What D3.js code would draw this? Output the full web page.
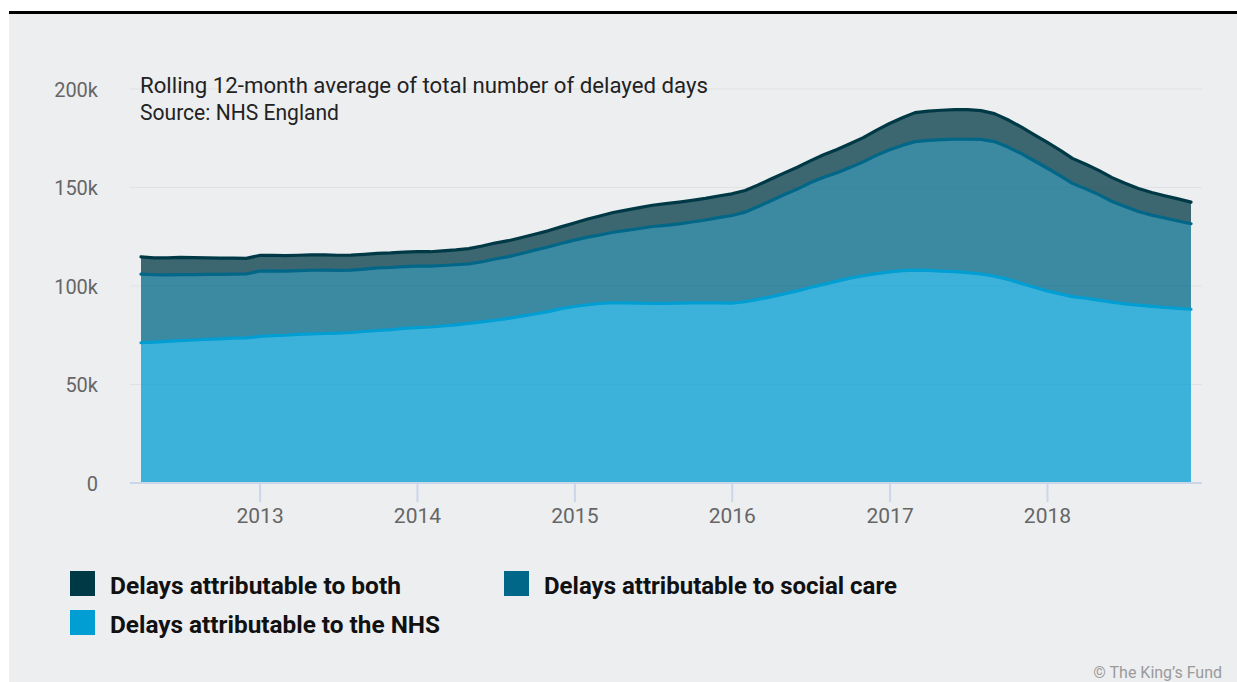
<!DOCTYPE html>
<html><head><meta charset="utf-8">
<script src="https://cdn.jsdelivr.net/npm/d3@7"></script>
<style>html,body{margin:0;padding:0;background:#fff;} svg{display:block;}</style>
</head><body>
<svg id="c" width="1237" height="682"></svg>
<script>
// ---- DATA (thousands of delayed days, monthly Apr 2012 – Dec 2018) ----
const firstMonth = "2012-04";
const lastMonth = "2018-12";
const nhs = [71.2,71.5,71.9,72.3,72.6,72.9,73.2,73.5,73.6,74.4,74.8,75.0,75.4,75.7,75.9,76.1,76.4,76.9,77.4,77.8,
  78.5,78.9,79.2,79.7,80.3,81.0,81.8,82.6,83.6,84.7,85.8,87.0,88.5,89.6,90.5,91.2,91.5,91.4,91.3,91.2,
  91.2,91.3,91.4,91.5,91.4,91.3,92.0,93.2,94.5,96.0,97.5,99.2,100.8,102.5,104.0,105.2,106.3,107.2,107.8,108.1,
  107.9,107.6,107.3,106.8,106.1,105.0,103.5,101.4,99.5,97.5,96.0,94.6,93.8,92.8,91.8,90.9,90.3,89.7,89.1,88.6,88.2];
const social = [34.8,34.2,33.7,33.5,33.2,33.0,32.7,32.5,32.5,33.2,32.9,32.6,32.4,32.3,32.2,31.8,31.7,31.7,31.8,31.6,
  31.3,31.2,30.9,30.7,30.5,30.2,30.5,31.1,31.3,31.8,32.4,32.8,33.1,33.7,34.3,34.7,35.8,36.8,37.9,39.0,
  39.6,40.2,41.1,42.0,43.3,44.5,45.5,47.0,48.8,50.3,51.7,53.2,54.4,55.0,56.2,57.8,60.0,62.0,63.7,65.2,
  66.0,66.7,67.2,67.7,68.3,68.3,67.2,66.0,64.2,62.4,59.9,57.5,55.5,53.6,51.1,49.4,47.5,46.3,45.4,44.4,43.4];
const both = [8.8,8.6,8.7,8.7,8.6,8.4,8.3,8.2,7.9,7.9,7.9,7.8,7.8,7.8,7.7,7.7,7.6,7.5,7.4,7.4,
  7.4,7.3,7.3,7.4,7.5,7.8,8.0,8.1,8.1,8.1,8.1,8.2,8.4,8.7,9.2,9.6,10.0,10.3,10.6,10.8,
  11.0,11.1,11.0,11.0,11.0,11.0,11.0,11.0,11.0,11.0,11.1,11.1,11.4,11.8,12.0,12.3,12.7,13.3,14.0,14.7,
  14.9,14.9,15.0,15.0,14.6,14.2,13.8,13.5,13.3,13.1,12.9,12.7,12.5,12.3,12.1,11.9,11.7,11.5,11.3,11.2,11.0];
const yTicks = [0, 50, 100, 150, 200];
const yTickLabels = ["0", "50k", "100k", "150k", "200k"];
const xTickYears = [2013, 2014, 2015, 2016, 2017, 2018];
const stackKeys = ["nhs", "social", "both"];
const seriesNames = {
  both: "Delays attributable to both",
  social: "Delays attributable to social care",
  nhs: "Delays attributable to the NHS"
};
const seriesColors = { both: "#003946", social: "#006788", nhs: "#009ed3" };
const titleLines = ["Rolling 12-month average of total number of delayed days", "Source: NHS England"];
const credit = "\u00A9 The King\u2019s Fund";

// ---- BUILD ----
const parse = d3.timeParse("%Y-%m");
const dates = d3.timeMonth.range(parse(firstMonth), d3.timeMonth.offset(parse(lastMonth), 1));
const rows = dates.map((d, i) => ({ date: d, nhs: nhs[i], social: social[i], both: both[i] }));

const svg = d3.select("#c");
const FONT = "Roboto, 'Noto Sans', sans-serif";

svg.append("rect").attr("x", 0).attr("y", 0).attr("width", 1237).attr("height", 682).attr("fill", "#ffffff");
svg.append("rect").attr("x", 9).attr("y", 14).attr("width", 1228).attr("height", 668).attr("fill", "#edeef0");
svg.append("rect").attr("x", 9).attr("y", 11).attr("width", 1228).attr("height", 3).attr("fill", "#000000");

const x = d3.scaleTime().domain([dates[0], dates[dates.length - 1]]).range([141, 1191]);
const y = d3.scaleLinear().domain([0, 200]).range([483, 89]);
const plotLeft = 130, plotRight = 1202;

// gridlines
svg.append("g").selectAll("line").data(yTicks.filter(t => t > 0)).join("line")
  .attr("x1", plotLeft).attr("x2", plotRight)
  .attr("y1", d => y(d)).attr("y2", d => y(d))
  .attr("stroke", "#e0e1e4").attr("stroke-width", 1);

// y labels
const yAxis = d3.axisLeft(y).tickValues(yTicks).tickSize(0).tickPadding(0)
  .tickFormat((d, i) => yTickLabels[i]);
const gy = svg.append("g").attr("transform", "translate(98,0)").call(yAxis);
gy.select(".domain").remove();
gy.selectAll("text").attr("font-family", FONT).attr("font-size", 20).attr("fill", "#666666")
  .attr("dy", "0.35em");

// stacked areas
const stack = d3.stack().keys(stackKeys);
const layers = stack(rows);
const area = d3.area().x(d => x(d.data.date)).y0(d => y(d[0])).y1(d => y(d[1]));
const line = d3.line().x(d => x(d.data.date)).y(d => y(d[1]));

svg.append("g").selectAll("path").data(layers).join("path")
  .attr("d", area).attr("fill", d => seriesColors[d.key]).attr("fill-opacity", 0.75);

// x axis
const xAxis = d3.axisBottom(x).tickValues(xTickYears.map(yv => new Date(yv, 0, 1)))
  .tickFormat(d3.timeFormat("%Y")).tickSize(19).tickSizeOuter(0).tickPadding(6);
const gx = svg.append("g").attr("transform", `translate(0,${y(0)})`).call(xAxis);
gx.select(".domain").remove();
gx.selectAll(".tick line").attr("stroke", "#ccd6eb").attr("stroke-width", 2);
gx.selectAll("text").attr("font-family", FONT).attr("font-size", 21).attr("fill", "#666666");
svg.append("line").attr("x1", plotLeft).attr("x2", plotRight).attr("y1", y(0)).attr("y2", y(0))
  .attr("stroke", "#ccd6eb").attr("stroke-width", 2);

// lines
svg.append("g").selectAll("path").data(layers).join("path")
  .attr("d", line).attr("fill", "none").attr("stroke", d => seriesColors[d.key])
  .attr("stroke-width", 3.2).attr("stroke-linecap", "round").attr("stroke-linejoin", "round");

// title
const titleWidths = [568, 199];
svg.append("g").selectAll("text").data(titleLines).join("text")
  .attr("x", 140).attr("y", (d, i) => 93 + i * 27)
  .attr("font-family", FONT).attr("font-size", 22).attr("fill", "#222222")
  .attr("textLength", (d, i) => titleWidths[i]).attr("lengthAdjust", "spacingAndGlyphs")
  .text(d => d);

// legend
const legendItems = [
  { key: "both", sx: 70, sy: 571, tw: 291 },
  { key: "social", sx: 504, sy: 571, tw: 353 },
  { key: "nhs", sx: 70, sy: 610, tw: 330 }
];
const lg = svg.append("g").selectAll("g").data(legendItems).join("g");
lg.append("rect").attr("x", d => d.sx).attr("y", d => d.sy).attr("width", 25).attr("height", 25)
  .attr("fill", d => seriesColors[d.key]);
lg.append("text").attr("x", d => d.sx + 40).attr("y", d => d.sy + 23)
  .attr("font-family", FONT).attr("font-weight", "bold").attr("font-size", 24).attr("fill", "#111111")
  .attr("textLength", d => d.tw).attr("lengthAdjust", "spacingAndGlyphs")
  .text(d => seriesNames[d.key]);

// credit
svg.append("text").attr("x", 1222).attr("y", 678).attr("text-anchor", "end")
  .attr("font-family", FONT).attr("font-size", 16).attr("fill", "#9a9a9a")
  .text(credit);
</script>
</body></html>
